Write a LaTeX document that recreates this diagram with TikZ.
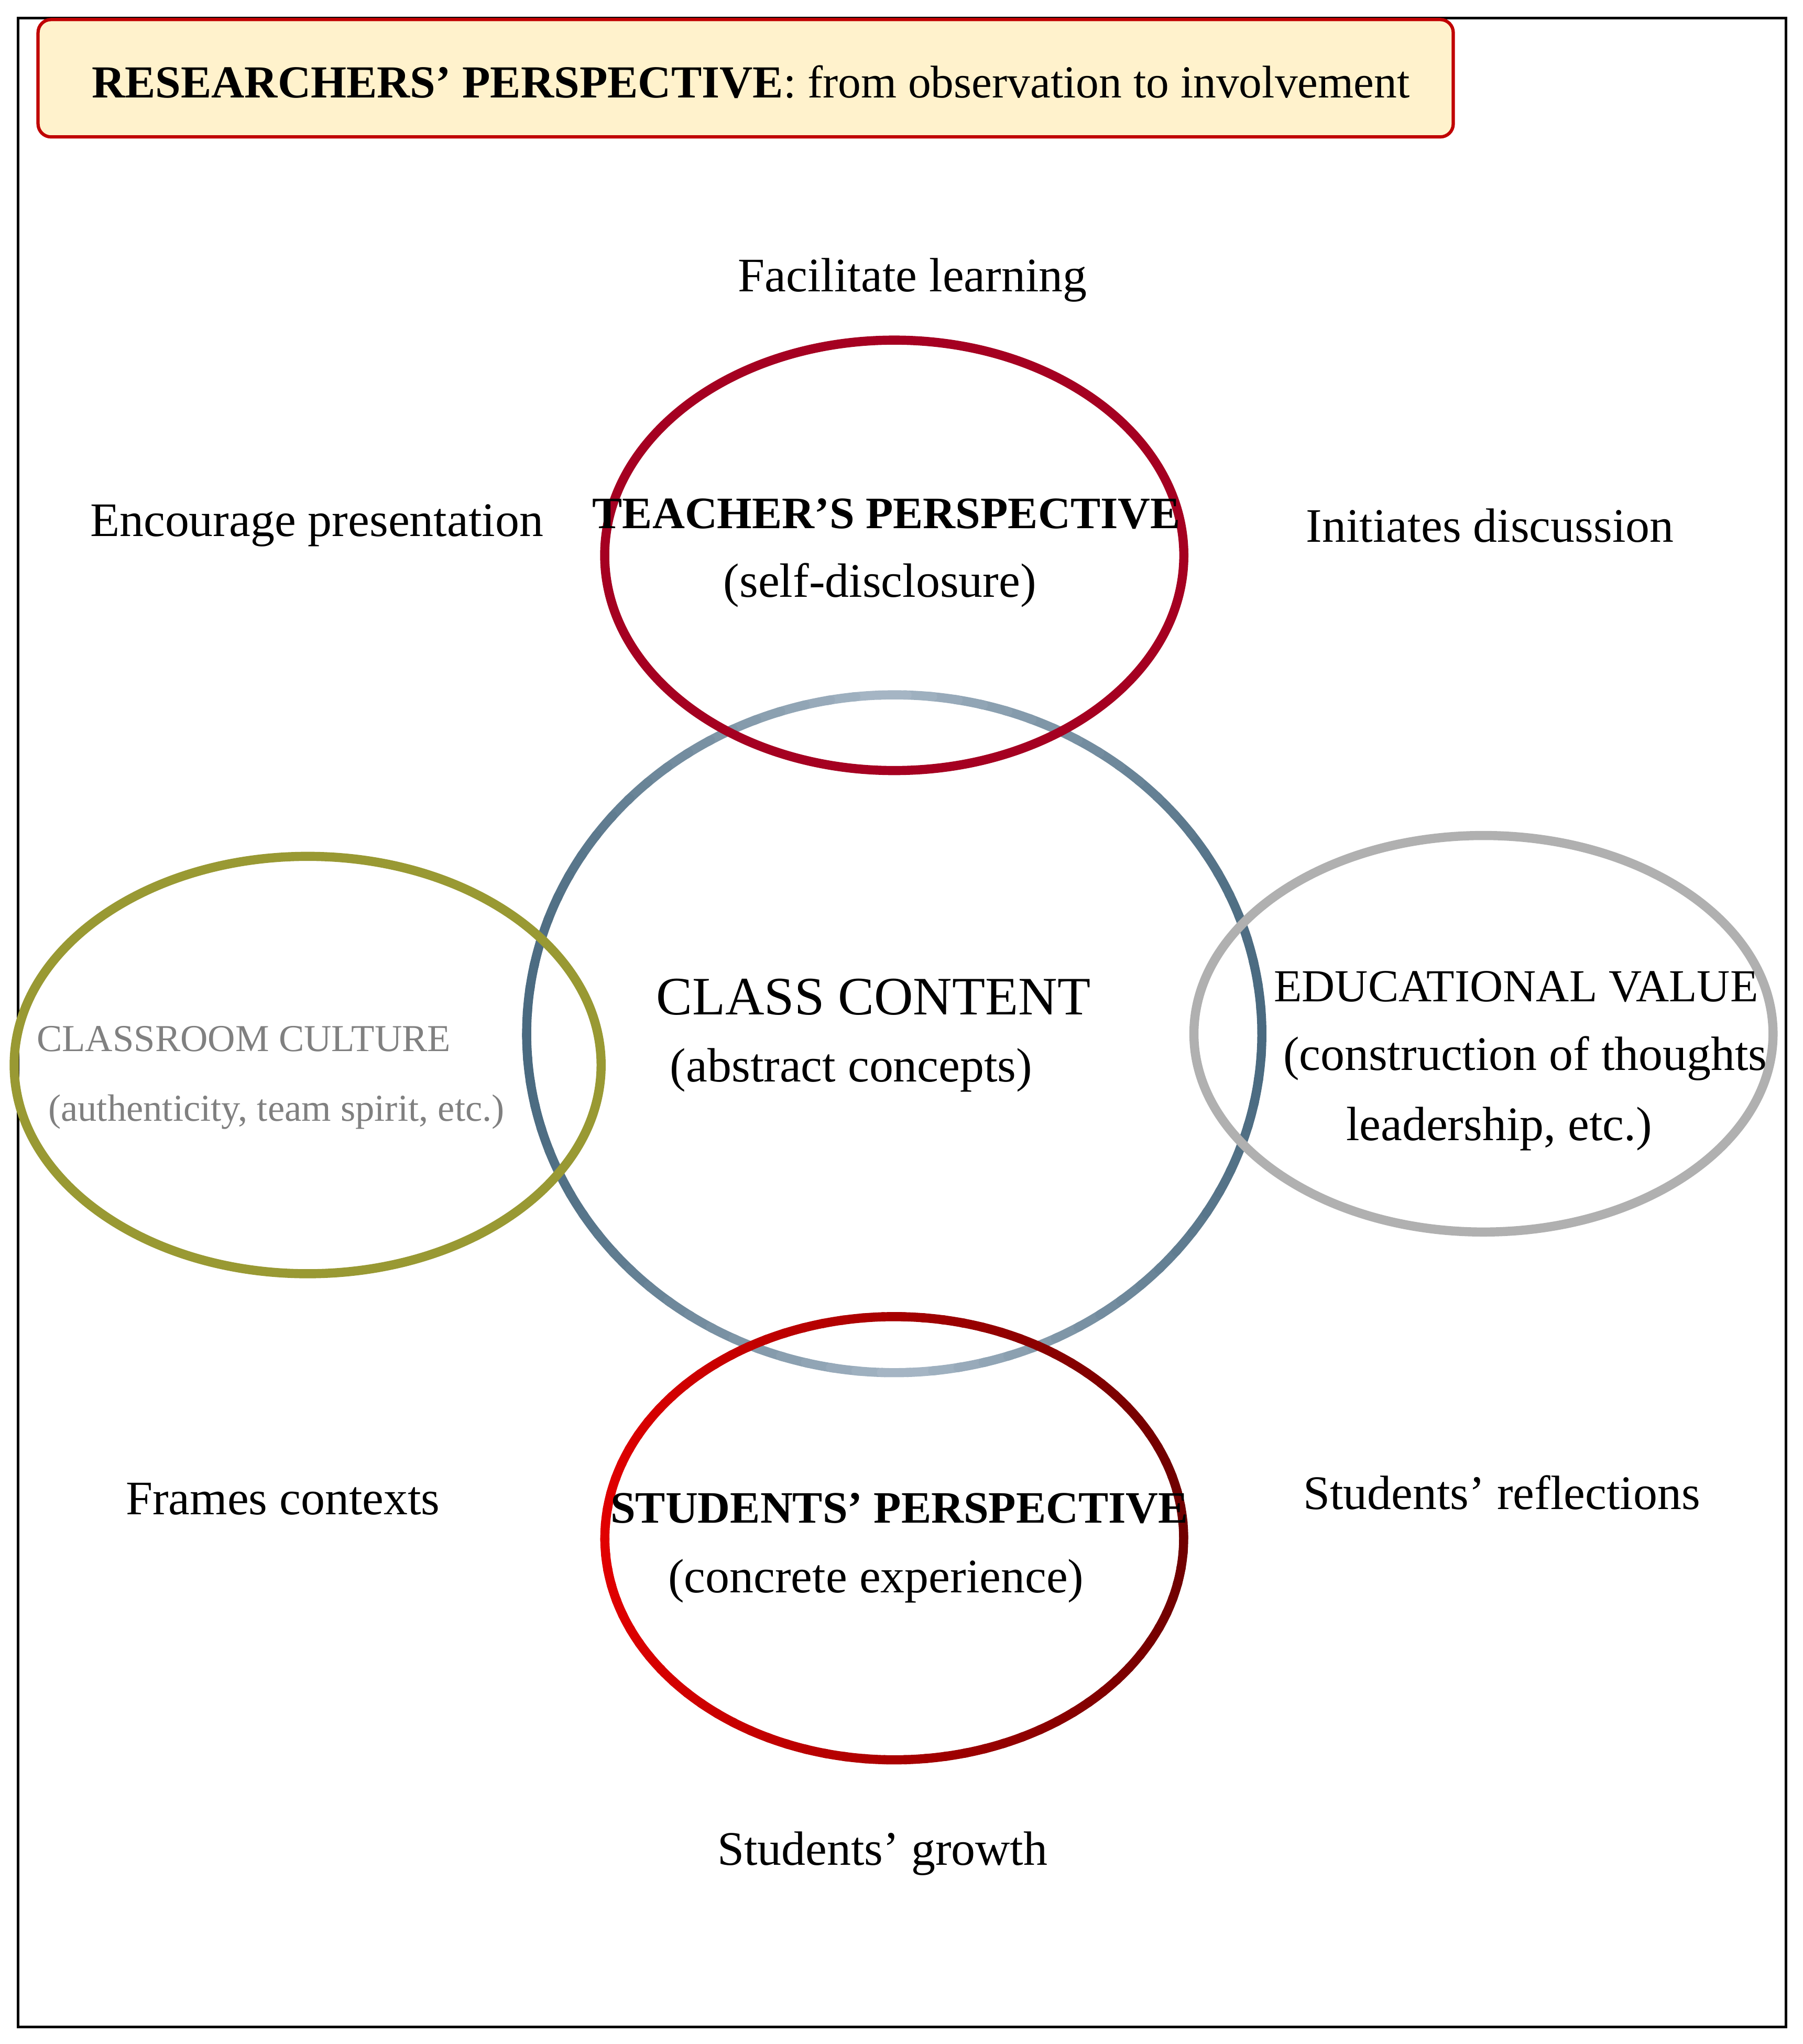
\documentclass[tikz,border=0pt]{standalone}
\usepackage{fontspec}
\setmainfont{Liberation Serif}
\usepackage{tikz}
\usetikzlibrary{shapes,positioning}
\definecolor{cream}{HTML}{FFF2CC}
\definecolor{boxred}{HTML}{C00000}
\definecolor{teachred}{HTML}{A50021}
\definecolor{olive}{HTML}{999933}
\definecolor{lightgrey}{HTML}{B0B0B0}
\definecolor{slate}{HTML}{4A6A80}
\definecolor{paleslate}{HTML}{A8B8C6}
\definecolor{brightred}{HTML}{E00000}
\definecolor{darkred}{HTML}{700000}
\tikzstyle{label}  = [font=\fontsize{10.5}{12}\selectfont, text=black]
\tikzstyle{bold}   = [font=\fontsize{9.8}{12}\selectfont\bfseries, text=black]
\tikzstyle{ring}   = [line width=0.07cm]
\tikzstyle{title}  = [rectangle, rounded corners=0.1cm, draw=boxred, fill=cream, line width=0.025cm]
\begin{document}
\begin{tikzpicture}[x=0.01cm, y=-0.01cm]
            \useasboundingbox (0,0) rectangle (1383,1568);
            \draw [line width=0.02cm] (14,14) rectangle (1370,1555);
            %Title box
            \node (topbox) [title, minimum width=10.85cm, minimum height=0.9cm] at (572,60) {};
            \node (toptext) [label, anchor=west, font=\fontsize{10}{12}\selectfont] at (58,63) {\textbf{RESEARCHERS’ PERSPECTIVE}: from observation to involvement};
            %Central circle
            \coordinate (cc) at (686,793);
            \foreach \a in {0,4,...,356} {
                \pgfmathsetmacro\m{100*abs(cos(\a))}
                \draw [ring, line cap=round, color=slate!\m!paleslate]
                    ([shift={(\a:282 and -260)}]cc) arc[start angle=\a, end angle=\a+4.5, x radius=282, y radius=-260];
            }
            %Students ellipse
            \coordinate (sc) at (686,1180);
            \foreach \a in {0,4,...,356} {
                \pgfmathsetmacro\m{50+50*cos(\a)}
                \draw [ring, line cap=round, color=darkred!\m!brightred]
                    ([shift={(\a:222 and -170)}]sc) arc[start angle=\a, end angle=\a+4.5, x radius=222, y radius=-170];
            }
            %Other ellipses
            \node (teacher)   [ring, draw=teachred,  ellipse, minimum width=4.44cm, minimum height=3.30cm] at (686,426) {};
            \node (culture)   [ring, draw=olive,     ellipse, minimum width=4.50cm, minimum height=3.20cm] at (236,817) {};
            \node (education) [ring, draw=lightgrey, ellipse, minimum width=4.44cm, minimum height=3.04cm] at (1138,793) {};
            %Texts in the rings
            \node (teach_1) [bold] at (680,394) {TEACHER’S PERSPECTIVE};
            \node (teach_2) [label] at (675,449) {(self-disclosure)};
            \node (class_1) [label, font=\fontsize{11.8}{14}\selectfont] at (670,765) {CLASS CONTENT};
            \node (class_2) [label] at (653,821) {(abstract concepts)};
            \node (cult_1)  [label, text=gray, font=\fontsize{8.3}{10}\selectfont] at (187,797) {CLASSROOM CULTURE};
            \node (cult_2)  [label, text=gray, font=\fontsize{8.3}{10}\selectfont] at (212,853) {(authenticity, team spirit, etc.)};
            \node (edu_1)   [label, font=\fontsize{10}{12}\selectfont] at (1163,757) {EDUCATIONAL VALUE};
            \node (edu_2)   [label] at (1170,812) {(construction of thoughts};
            \node (edu_3)   [label] at (1150,866) {leadership, etc.)};
            \node (stud_1)  [bold] at (690,1157) {STUDENTS’ PERSPECTIVE};
            \node (stud_2)  [label] at (672,1213) {(concrete experience)};
            %Outer texts
            \node (facil)   [label] at (700,215)  {Facilitate learning};
            \node (encour)  [label] at (243,403)  {Encourage presentation};
            \node (initia)  [label] at (1143,403) {Initiates discussion};
            \node (frames)  [label] at (217,1150) {Frames contexts};
            \node (reflect) [label] at (1152,1145) {Students’ reflections};
            \node (growth)  [label] at (677,1422) {Students’ growth};
        \end{tikzpicture}
\end{document}
